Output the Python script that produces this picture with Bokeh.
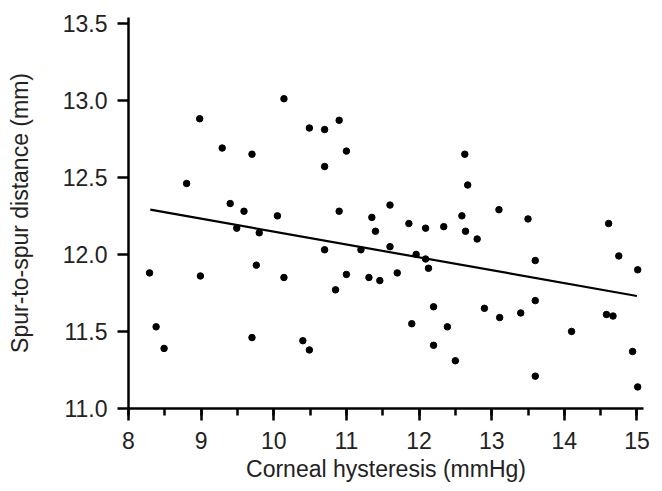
from bokeh.plotting import figure
from bokeh.models import Range1d, SingleIntervalTicker, PrintfTickFormatter, Title
from bokeh.embed import file_html
from bokeh.resources import INLINE

hysteresis = [8.29, 8.38, 8.49, 8.80, 8.98, 8.99, 9.29, 9.40, 9.49, 9.59,
              9.70, 9.70, 9.76, 9.80, 10.05, 10.14, 10.14, 10.40, 10.49, 10.49,
              10.70, 10.70, 10.70, 10.85, 10.90, 10.90, 11.00, 11.00, 11.20, 11.31,
              11.35, 11.40, 11.46, 11.60, 11.60, 11.70, 11.86, 11.90, 11.96, 12.09,
              12.09, 12.13, 12.20, 12.20, 12.34, 12.39, 12.50, 12.59, 12.63, 12.64,
              12.67, 12.80, 12.90, 13.10, 13.11, 13.40, 13.50, 13.60, 13.60, 13.60,
              14.10, 14.58, 14.61, 14.67, 14.75, 14.94, 15.01, 15.01]
spur_distance = [11.88, 11.53, 11.39, 12.46, 12.88, 11.86, 12.69, 12.33, 12.17, 12.28,
                 12.65, 11.46, 11.93, 12.14, 12.25, 13.01, 11.85, 11.44, 12.82, 11.38,
                 12.81, 12.57, 12.03, 11.77, 12.87, 12.28, 12.67, 11.87, 12.03, 11.85,
                 12.24, 12.15, 11.83, 12.32, 12.05, 11.88, 12.20, 11.55, 12.00, 12.17,
                 11.97, 11.91, 11.66, 11.41, 12.18, 11.53, 11.31, 12.25, 12.65, 12.15,
                 12.45, 12.10, 11.65, 12.29, 11.59, 11.62, 12.23, 11.96, 11.70, 11.21,
                 11.50, 11.61, 12.20, 11.60, 11.99, 11.37, 11.90, 11.14]

fit_x = [8.3, 15.0]
fit_y = [12.29, 11.73]

x_title = "Corneal hysteresis (mmHg)"
y_title = "Spur-to-spur distance (mm)"

FONT = "Liberation Sans"

p = figure(width=654, height=490, output_backend="svg", toolbar_location=None,
           x_range=Range1d(8, 15.09), y_range=Range1d(11.0, 13.537),
           min_border_left=128, min_border_top=17, min_border_right=11,
           min_border_bottom=82)
p.outline_line_color = None
p.grid.visible = False
p.background_fill_color = "white"

p.scatter(hysteresis, spur_distance, size=6.5, color="black")
p.line(fit_x, fit_y, line_width=2.2, color="black")

p.xaxis.ticker = SingleIntervalTicker(interval=1, num_minor_ticks=2)
p.yaxis.ticker = SingleIntervalTicker(interval=0.5, num_minor_ticks=0)
p.yaxis.formatter = PrintfTickFormatter(format="%.1f")

for ax in (p.xaxis[0], p.yaxis[0]):
    ax.axis_line_width = 2.5
    ax.axis_line_color = "black"
    ax.major_tick_line_width = 2.5
    ax.major_tick_line_color = "black"
    ax.major_tick_in = 0
    ax.major_tick_out = 12
    ax.minor_tick_line_width = 2.5
    ax.minor_tick_line_color = "black"
    ax.minor_tick_in = 0
    ax.minor_tick_out = 7
    ax.major_label_text_font = FONT
    ax.major_label_text_font_size = "23px"
    ax.major_label_text_color = "#222222"
    ax.major_label_standoff = 10
    ax.axis_label_text_font = FONT
    ax.axis_label_text_font_size = "23px"
    ax.axis_label_text_font_style = "normal"
    ax.axis_label_text_color = "#222222"

p.yaxis.major_tick_out = 11
p.xaxis.major_label_standoff = 11
p.yaxis.axis_label = y_title
p.yaxis.axis_label_standoff = 27

xtitle = Title(text=x_title, align="center", text_font=FONT, text_font_size="23px",
               text_font_style="normal", text_color="#222222", standoff=5, offset=0)
p.add_layout(xtitle, "below")

open("out.html", "w").write(file_html(p, INLINE))
